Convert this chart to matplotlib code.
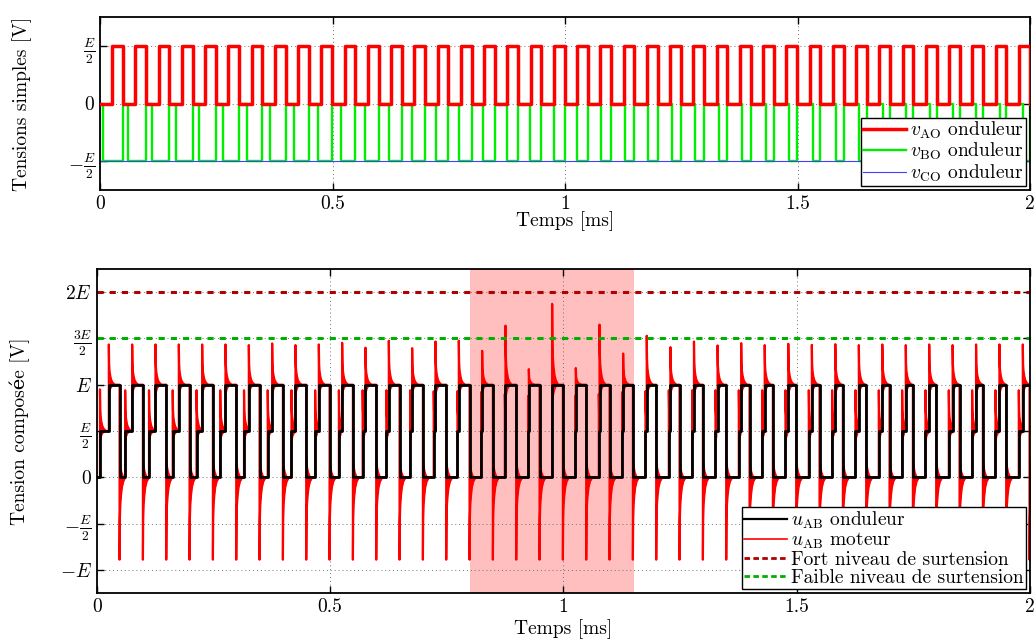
import numpy as np
import matplotlib
matplotlib.use("Agg")
import matplotlib.pyplot as plt
from matplotlib.lines import Line2D

plt.rcParams.update({
    "font.family": ["cmr10", "DejaVu Serif"],
    "mathtext.fontset": "cm",
    "axes.formatter.use_mathtext": True,
    "axes.unicode_minus": False,
})

# ---------------- data (times in ms, voltages in units of E) ----------------
T_END = 2.0
carrier_period = 0.05
n_periods = 40
vAO_rise_offset = 0.026          # vAO goes 0 -> E/2
vAO_fall_offset = 0.049          # vAO goes E/2 -> 0
vBO_rise_offset = 0.049          # vBO goes -E/2 -> 0
vBO_initial_pulse_end = 0.007
vCO_level = -0.5

# width of each vBO pulse (time spent at 0), read period by period
vBO_pulse_width = [0.0120, 0.0131, 0.0139, 0.0149, 0.0157, 0.0167, 0.0175, 0.0184, 0.0191, 0.0200,
                   0.0209, 0.0216, 0.0226, 0.0232, 0.0241, 0.0248, 0.0256, 0.0262, 0.0270, 0.0277,
                   0.0285, 0.0291, 0.0297, 0.0304, 0.0309, 0.0315, 0.0321, 0.0325, 0.0330, 0.0335,
                   0.0338, 0.0342, 0.0345, 0.0348, 0.0350, 0.0352, 0.0354, 0.0355, 0.0356, 0.0357]

# motor voltage overshoot peaks (units of E)
uAB_peak_high = [1.435, 1.435, 1.435, 1.435, 1.435, 1.435, 1.428, 1.446, 1.428, 1.435,
                 1.453, 1.400, 1.475, 1.395, 1.467, 1.475, 1.366, 1.638, 1.168, 1.873,
                 1.180, 1.649, 1.337, 1.529, 1.406, 1.467, 1.424, 1.449, 1.428, 1.442,
                 1.431, 1.438, 1.428, 1.435, 1.428, 1.435, 1.428, 1.435, 1.435, 1.435]
uAB_peak_step = [0.95, 0.94, 0.94, 0.94, 0.94, 0.94, 0.94, 0.94, 0.94, 0.94,
                 0.94, 0.94, 0.94, 0.94, 0.93, 0.93, 0.92, 0.90, 0.88, 0.88,
                 0.88, 0.90, 0.92, 0.93, 0.94, 0.94, 0.94, 0.94, 0.94, 0.94,
                 0.94, 0.94, 0.94, 0.94, 0.94, 0.94, 0.94, 0.94, 0.94, 0.94]
uAB_peak_low = [-0.89, -0.89, -0.89, -0.89, -0.89, -0.89, -0.89, -0.89, -0.89, -0.89,
                -0.89, -0.89, -0.89, -0.89, -0.89, -0.89, -0.89, -0.89, -0.89, -0.89,
                -0.89, -0.89, -0.89, -0.89, -0.89, -0.89, -0.89, -0.89, -0.89, -0.89,
                -0.89, -0.89, -0.89, -0.89, -0.89, -0.89, -0.89, -0.89, -0.89, -0.89]

high_overvoltage = 2.0
low_overvoltage = 1.5
highlight_span = (0.80, 1.152)

# ringing envelope template (shape of a single overshoot)
ring_dt = [0.0, 0.0006, 0.0015, 0.003, 0.005, 0.008, 0.013]
ring_up = [1.0, 0.52, 0.34, 0.22, 0.12, 0.05, 0.0]
ring_low = [0.0, 0.30, 0.22, 0.13, 0.07, 0.025, 0.0]

# ---------------- build switching waveforms ----------------
starts = carrier_period * np.arange(n_periods)
red_edges = []
green_edges = [(0.0, 0.0), (vBO_initial_pulse_end, -0.5)]
for k, s in enumerate(starts):
    red_edges += [(s + vAO_rise_offset, 0.5), (s + vAO_fall_offset, 0.0)]
    green_edges += [(s + vBO_rise_offset, 0.0), (s + vBO_rise_offset + vBO_pulse_width[k], -0.5)]


def level(edges, t, init):
    v = init
    for te, ve in edges:
        if te <= t + 1e-12:
            v = ve
    return v


def step_xy(edges, init):
    xs, ys = [0.0], [init]
    cur = init
    for te, ve in sorted(edges):
        if te > T_END:
            break
        xs += [te, te]
        ys += [cur, ve]
        cur = ve
    xs.append(T_END)
    ys.append(cur)
    return xs, ys


red_x, red_y = step_xy(red_edges, 0.0)
green_x, green_y = step_xy(green_edges, 0.0)

times = sorted(set([te for te, _ in red_edges + green_edges if te <= T_END]))
u_levels = [level(red_edges, t, 0.0) - level(green_edges, t, 0.0) for t in times]
u0 = 0.0
trans = []
prev = u0
for t, u in zip(times, u_levels):
    u = round(u * 2) / 2
    if abs(u - prev) > 1e-9:
        trans.append((t, prev, u))
        prev = u

bx, by = [0.0], [u0]
for t, a, b in trans:
    bx += [t, t]
    by += [a, b]
bx.append(T_END)
by.append(prev)

# motor voltage: inverter voltage + overshoots
mx, my = [0.0], [u0]
fills = []
for i, (t, a, b) in enumerate(trans):
    k = int(round((t - vAO_rise_offset) / carrier_period))
    k = min(max(k, 0), n_periods - 1)
    t_next = trans[i + 1][0] if i + 1 < len(trans) else T_END + 1
    if b < a:
        pk = uAB_peak_low[k]
    elif b > 0.75:
        pk = uAB_peak_high[k]
    else:
        pk = uAB_peak_step[k]
    mx += [t, t]
    my += [a, pk]
    fx, fu, fl = [], [], []
    for dt, fu_, fl_ in zip(ring_dt[1:], ring_up[1:], ring_low[1:]):
        if t + dt >= t_next:
            break
        mx.append(t + dt)
        my.append(b + (pk - b) * fu_)
    for dt, fu_, fl_ in zip(ring_dt, ring_up, ring_low):
        if t + dt > t_next:
            break
        fx.append(t + dt)
        fu.append(b + (pk - b) * fu_)
        fl.append(b - (pk - b) * fl_)
    fills.append((fx, fu, fl))
    if t_next <= T_END:
        mx.append(t_next)
        my.append(b)
mx.append(T_END)
my.append(prev)

# ---------------- figure ----------------
fig = plt.figure(figsize=(10.36, 6.41), dpi=100)
ax1 = fig.add_axes([100 / 1036, 1 - 190 / 641, 930 / 1036, 173 / 641])
ax2 = fig.add_axes([96.7 / 1036, 1 - 593 / 641, 933.3 / 1036, 324 / 641])

FS = 14

def style(ax):
    ax.tick_params(direction="in", length=5, width=1, top=True, right=True, labelsize=FS)
    for sp in ax.spines.values():
        sp.set_linewidth(1.3)
    ax.grid(True, linestyle=(0, (1, 3)), color="0.45", linewidth=0.7)
    ax.set_xlim(0, T_END)
    ax.set_xticks([0, 0.5, 1, 1.5, 2])
    ax.set_xticklabels(["0", "0.5", "1", "1.5", "2"])


# top
style(ax1)
ax1.plot(red_x, red_y, color="#ff0000", lw=2.5, label=r"$v_{\mathrm{AO}}$ onduleur", zorder=3)
ax1.plot(green_x, green_y, color="#00ee00", lw=1.7, label=r"$v_{\mathrm{BO}}$ onduleur", zorder=2)
ax1.plot([0, T_END], [vCO_level, vCO_level], color="#4040ff", lw=0.8,
         label=r"$v_{\mathrm{CO}}$ onduleur", zorder=2.5)
ax1.set_ylim(-0.75, 0.75)
ax1.set_yticks([-0.5, 0, 0.5])
ax1.set_yticklabels([r"$-\frac{E}{2}$", r"$0$", r"$\frac{E}{2}$"])
ax1.set_xlabel("Temps [ms]", fontsize=FS)
ax1.set_ylabel("Tensions simples [V]", fontsize=FS)
ax1.xaxis.set_label_coords(0.5, -0.12)
ax1.yaxis.set_label_coords(-0.073, 0.5)
leg1 = ax1.legend(loc="lower right", fontsize=FS, frameon=True, fancybox=False,
                  edgecolor="black", framealpha=1, borderpad=0.12, labelspacing=0.0,
                  handlelength=2.2, handletextpad=0.2, borderaxespad=0.2)
leg1.get_frame().set_linewidth(1.0)

# bottom
style(ax2)
ax2.axvspan(highlight_span[0], highlight_span[1], color="#ffbfbf", lw=0, zorder=0.5)
for fx, fu, fl in fills:
    ax2.fill_between(fx, fl, fu, color="#ff0000", lw=0, zorder=2)
ax2.plot(mx, my, color="#ff0000", lw=1.6, zorder=2.1)
ax2.plot(bx, by, color="black", lw=2.0, zorder=3)
ax2.axhline(high_overvoltage, color="#b00000", lw=2.2, ls=(0, (2, 2)), zorder=2.5)
ax2.axhline(low_overvoltage, color="#00b000", lw=2.2, ls=(0, (2, 2)), zorder=2.5)
ax2.set_ylim(-1.25, 2.25)
ax2.set_yticks([-1, -0.5, 0, 0.5, 1, 1.5, 2])
ax2.set_yticklabels([r"$-E$", r"$-\frac{E}{2}$", r"$0$", r"$\frac{E}{2}$", r"$E$",
                     r"$\frac{3E}{2}$", r"$2E$"])
ax2.set_xlabel("Temps [ms]", fontsize=FS)
ax2.set_ylabel("Tension composée [V]", fontsize=FS)
ax2.xaxis.set_label_coords(0.5, -0.08)
ax2.yaxis.set_label_coords(-0.072, 0.5)
handles = [
    Line2D([], [], color="black", lw=1.6),
    Line2D([], [], color="#ff0000", lw=1.2),
    Line2D([], [], color="#b00000", lw=2.0, ls=(0, (2, 1.2))),
    Line2D([], [], color="#00b000", lw=2.0, ls=(0, (2, 1.2))),
]
labels = [r"$u_{\mathrm{AB}}$ onduleur", r"$u_{\mathrm{AB}}$ moteur",
          "Fort niveau de surtension", "Faible niveau de surtension"]
leg2 = ax2.legend(handles, labels, loc="lower right", fontsize=FS, frameon=True, fancybox=False,
                  edgecolor="black", framealpha=1, borderpad=0.12, labelspacing=0.0,
                  handlelength=2.2, handletextpad=0.2, borderaxespad=0.2)
leg2.get_frame().set_linewidth(1.0)
leg2.set_zorder(5)

fig.savefig("out.png", dpi=100)
